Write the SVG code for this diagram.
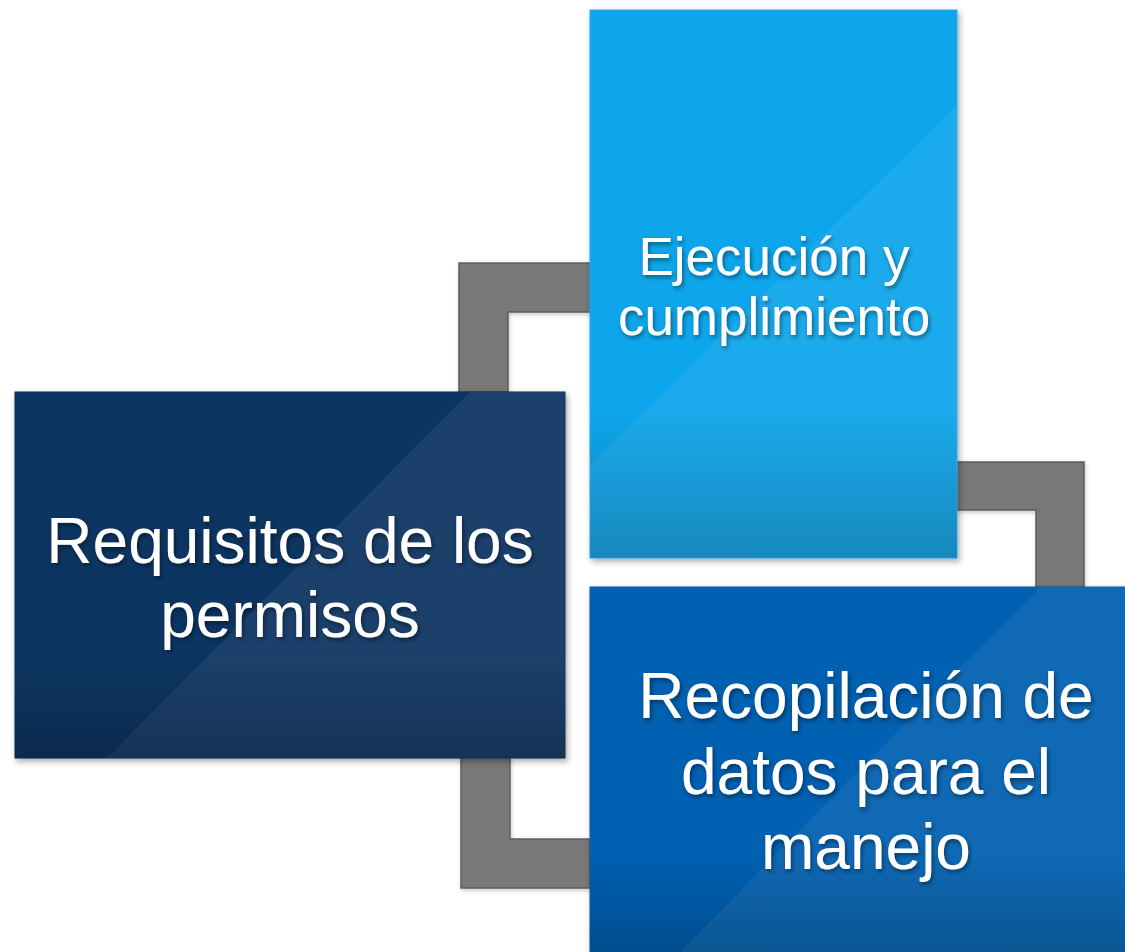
<svg xmlns="http://www.w3.org/2000/svg" width="1125" height="952" viewBox="0 0 1125 952">
<defs>
<filter id="boxShadow" x="-10%" y="-10%" width="120%" height="120%">
<feDropShadow dx="2" dy="3" stdDeviation="3" flood-color="#000" flood-opacity="0.35"/>
</filter>
<filter id="txtShadow" x="-10%" y="-20%" width="120%" height="140%">
<feDropShadow dx="1.5" dy="2.5" stdDeviation="2" flood-color="#000" flood-opacity="0.45"/>
</filter>
<filter id="connShadow" x="-10%" y="-10%" width="120%" height="120%">
<feDropShadow dx="1" dy="2" stdDeviation="2" flood-color="#000" flood-opacity="0.2"/>
</filter>
<linearGradient id="shade" x1="0" y1="0" x2="0" y2="1">
<stop offset="0.72" stop-color="#000" stop-opacity="0"/>
<stop offset="1" stop-color="#000" stop-opacity="0.2"/>
</linearGradient>
</defs>
<style>
.conn{fill:#787878;stroke:#5e5e5e;stroke-width:1.5;filter:url(#connShadow)}
.lbl{font-family:"Liberation Sans",Arial,sans-serif;fill:#ffffff;text-anchor:middle;filter:url(#txtShadow)}
.hl{fill:#ffffff;fill-opacity:0.06}
</style>
<rect width="1125" height="952" fill="#ffffff"/>
<g id="connectors">
<polygon class="conn" points="459,263 590,263 590,312 508,312 508,392 459,392"/>
<polygon class="conn" points="956,462 1084,462 1084,587 1036,587 1036,510 956,510"/>
<polygon class="conn" points="461,757 510,757 510,839 590,839 590,888 461,888"/>
</g>
<g id="node-requisitos">
<rect x="15" y="392" width="550" height="366" fill="#0c3562" stroke="#0a2d55" stroke-width="1" filter="url(#boxShadow)"/>
<polygon class="hl" points="107,758 565,758 565,392 470,392"/>
<rect x="15" y="392" width="550" height="366" fill="url(#shade)"/>
<text class="lbl" font-size="64" x="290" y="563">Requisitos de los</text>
<text class="lbl" font-size="64" x="290" y="637">permisos</text>
</g>
<g id="node-ejecucion">
<rect x="590" y="10" width="367" height="548" fill="#0aa6ec" stroke="#2aa8f5" stroke-width="1" filter="url(#boxShadow)"/>
<polygon class="hl" points="590,465 957,105 957,558 590,558"/>
<rect x="590" y="10" width="367" height="548" fill="url(#shade)"/>
<text class="lbl" font-size="53" x="774" y="275">Ejecución y</text>
<text class="lbl" font-size="53" x="774" y="335">cumplimiento</text>
</g>
<g id="node-recopilacion">
<rect x="590" y="587" width="540" height="370" fill="#0561b1" stroke="#0a5aa0" stroke-width="1" filter="url(#boxShadow)"/>
<polygon class="hl" points="680,952 1040,587 1125,587 1125,952"/>
<rect x="590" y="587" width="540" height="370" fill="url(#shade)"/>
<text class="lbl" font-size="64" x="866" y="718">Recopilación de</text>
<text class="lbl" font-size="64" x="866" y="794">datos para el</text>
<text class="lbl" font-size="64" x="866" y="869">manejo</text>
</g>
</svg>
